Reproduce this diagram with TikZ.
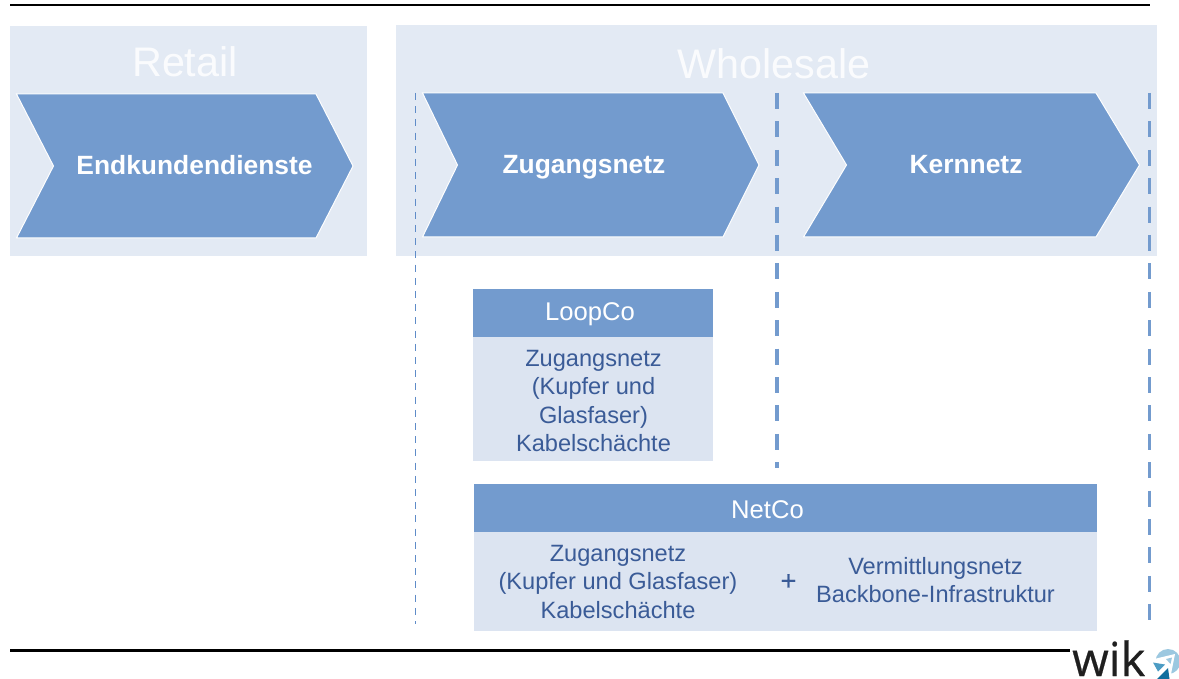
\documentclass[tikz,border=0pt]{standalone}
\usepackage{fontspec}
\setmainfont{Liberation Sans}
\newfontfamily\logofont[FakeBold=0.5]{Open Sans}
\newfontfamily\plusfont[FakeBold=0.7]{Liberation Sans}
\definecolor{bandbg}{HTML}{E3EAF4}
\definecolor{blue1}{HTML}{739BCE}
\definecolor{bodybg}{HTML}{DCE4F1}
\definecolor{bodytxt}{HTML}{3A5B97}
\definecolor{dashblue}{HTML}{739BCE}
\definecolor{thinblue}{HTML}{5F8CC8}
\definecolor{iconlight}{HTML}{9CC8E0}
\definecolor{iconmid}{HTML}{4C9CC4}
\definecolor{icondark}{HTML}{0F6E9E}
\tikzset{
  x=1pt,y=-1pt,
  band/.style={fill=bandbg,draw=none},
  chev/.style={fill=blue1,draw=white,line width=1pt,line join=miter},
  chevtext/.style={text=white,font=\fontsize{26.4}{30}\selectfont\bfseries,inner sep=0pt,anchor=base},
  bandtitle/.style={text=white,opacity=0.85,font=\fontsize{41.3}{46}\selectfont,inner sep=0pt,anchor=base},
  headbox/.style={fill=blue1,draw=none,anchor=north west,inner sep=0pt},
  headtext/.style={text=white,font=\fontsize{25.6}{28}\selectfont,inner sep=0pt,anchor=base},
  bodybox/.style={fill=bodybg,draw=none,anchor=north west,inner sep=0pt},
  bodytext/.style={text=bodytxt,font=\fontsize{23.6}{28.5}\selectfont,align=center,inner sep=0pt},
  thickdash/.style={draw=dashblue,line width=3.8pt,dash pattern=on 16pt off 12.4pt},
  thindash/.style={draw=thinblue,line width=1.8pt,dash pattern=on 7pt off 6.2pt},
  rule/.style={draw=black,line cap=butt},
}
\begin{document}
\begin{tikzpicture}
\useasboundingbox (0,0) rectangle (1179,679);
\fill[white] (0,0) rectangle (1179,679);
\draw[rule,line width=2pt] (10,5) coordinate (ta) -- (1150,5) coordinate (tb);
\draw[rule,line width=3pt] (10,650) coordinate (ba) -- (1070,650) coordinate (bb);
\node[band,minimum width=357pt,minimum height=230pt,anchor=north west,inner sep=0pt] (retail) at (10,26) {};
\node[band,minimum width=761pt,minimum height=231pt,anchor=north west,inner sep=0pt] (wholesale) at (396,25) {};
\node[bandtitle] (retailt) at (185,76.5) {Retail};
\node[bandtitle] (wholesalet) at (774,79) {Wholesale};
\draw[chev] (16.5,94) -- (316,94) -- (353,166) -- (316,238) -- (16.5,238) -- (53.5,166) -- cycle;
\node[chevtext] (endk) at (194.5,174.5) {Endkundendienste};
\draw[chev] (422.5,93) -- (723,93) -- (759,165) -- (723,237) -- (422.5,237) -- (457.5,165) -- cycle;
\node[chevtext] (zug) at (584,174) {Zugangsnetz};
\draw[chev] (803.5,93) -- (1096,93) -- (1139.5,165) -- (1096,237) -- (803.5,237) -- (846.5,165) -- cycle;
\node[chevtext] (kern) at (966,174) {Kernnetz};
\coordinate (d1a) at (415.5,93); \coordinate (d1b) at (415.5,624);
\coordinate (d2a) at (777,93); \coordinate (d2b) at (777,468);
\coordinate (d3a) at (1149.5,93); \coordinate (d3b) at (1149.5,622);
\draw[thindash] (d1a) -- (d1b);
\draw[thickdash] (d2a) -- (d2b);
\draw[thickdash] (d3a) -- (d3b);
\node[headbox,minimum width=240pt,minimum height=48pt] (loop) at (473,289) {};
\node[headtext] (loopl) at (590,321) {LoopCo};
\node[bodybox,minimum width=240pt,minimum height=124pt] (loopb) at (473,337) {};
\node[bodytext] (loopt) at (593.5,401) {Zugangsnetz\\(Kupfer und\\Glasfaser)\\Kabelschächte};
\node[headbox,minimum width=623pt,minimum height=48pt] (net) at (474,484) {};
\node[headtext] (netl) at (767.5,518) {NetCo};
\node[bodybox,minimum width=623pt,minimum height=99pt] (netb) at (474,532) {};
\node[bodytext] (net1) at (618,581.5) {Zugangsnetz\\(Kupfer und Glasfaser)\\Kabelschächte};
\node[bodytext,font=\plusfont\fontsize{27}{28}\selectfont] (plus) at (788.5,582) {+};
\node[bodytext] (net2) at (935.5,580) {Vermittlungsnetz\\Backbone-Infrastruktur};
% logo
\node[anchor=base west,inner sep=0pt,text=black!88,font=\logofont\fontsize{47}{47}\selectfont] (wik) at (1072,676) {wik};
\begin{scope}
\clip (1150,640) rectangle (1179,679);
\fill[iconlight] (1168,661.5) circle (12.5);
\fill[white] (1150,660) -- (1175,654) -- (1170,679) -- (1155,679) -- cycle;
\fill[iconlight] (1166,659) -- (1172,657.5) -- (1170.5,664) -- cycle;
\fill[iconmid] (1153,662.5) -- (1165,664.5) -- (1158,671.5) -- cycle;
\fill[icondark] (1157,679) -- (1168,668) -- (1169.5,679) -- cycle;
\end{scope}
\end{tikzpicture}
\end{document}
